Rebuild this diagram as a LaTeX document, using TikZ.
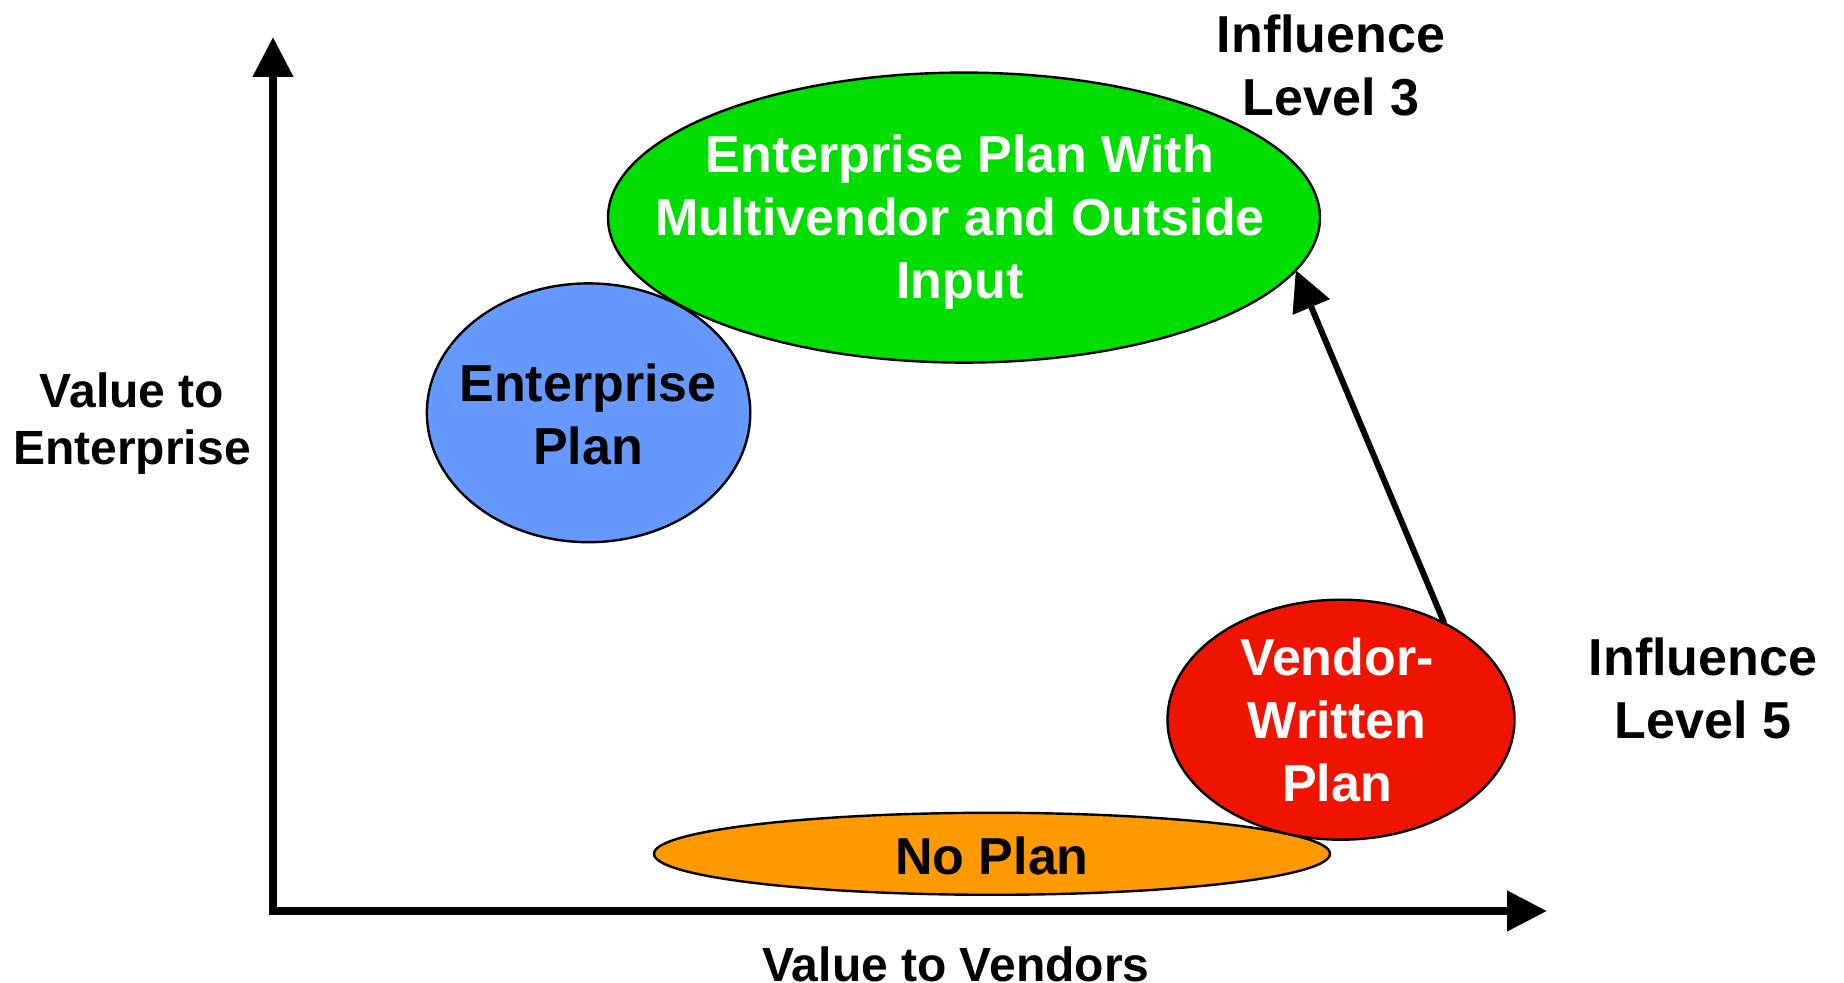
\documentclass[tikz,border=0pt]{standalone}
\usepackage{fontspec}
\setmainfont{Liberation Sans}
\usetikzlibrary{shapes.geometric,arrows.meta}
\definecolor{gfill}{RGB}{0,222,0}
\definecolor{bfill}{RGB}{102,153,255}
\definecolor{rfill}{RGB}{240,20,0}
\definecolor{ofill}{RGB}{255,153,0}
\begin{document}
\begin{tikzpicture}[x=0.5pt,y=-0.5pt,
  blob/.style={ellipse, draw=black, line width=1.2pt, inner sep=0pt, outer sep=0pt},
  blobtext/.style={align=center, inner sep=0pt, font=\fontsize{26}{31.5}\selectfont\bfseries},
  lab/.style={align=center, inner sep=0pt, font=\fontsize{24}{28.5}\selectfont\bfseries},
  inflab/.style={align=center, inner sep=0pt, font=\fontsize{26}{31.5}\selectfont\bfseries},
  tip/.style={Triangle[length=20pt,width=19.5pt]},
  ax/.style={line width=3.75pt, {Triangle[length=20pt,width=19.5pt]}-{Triangle[length=20pt,width=19.5pt]}},
  mover/.style={line width=3pt, -{Triangle[length=20pt,width=19.5pt]}}]
\useasboundingbox (0,0) rectangle (1844,983);
\fill[white] (0,0) rectangle (1844,983);

% axes
\coordinate (O) at (273,911);
\coordinate (ytop) at (273,37);
\coordinate (xend) at (1547,911);
\draw[ax] (ytop) -- (O) -- (xend);

% ellipses
\node[blob, fill=gfill, minimum width=356pt, minimum height=145pt] (green) at (964,217.6) {};
\node[blob, fill=bfill, minimum width=161.7pt, minimum height=129.4pt] (blue) at (588.6,412.8) {};
\node[blob, fill=ofill, minimum width=338pt, minimum height=41pt] (orange) at (992,853.8) {};
\node[blob, fill=rfill, minimum width=173.5pt, minimum height=120pt] (red) at (1341,719.7) {};

% ellipse texts
\node[blobtext, text=white] (gtext) at (960,222) {Enterprise Plan With\\Multivendor and Outside\\Input};
\node[blobtext, text=black] (btext) at (588,414) {Enterprise\\Plan};
\node[blobtext, text=white] (rtext) at (1337,720) {Vendor-\\Written\\Plan};
\node[blobtext, text=black] (otext) at (992,856) {No Plan};

% labels
\node[inflab] (inf3) at (1331,65) {Influence\\Level 3};
\node[inflab] (inf5) at (1703,688) {Influence\\Level 5};
\node[lab] (vent) at (132,424) {Value to\\Enterprise};
\node[lab] (vven) at (956,964) {Value to Vendors};

% arrow
\draw[mover] (red.43) -- (green.-9.4);
\end{tikzpicture}
\end{document}
